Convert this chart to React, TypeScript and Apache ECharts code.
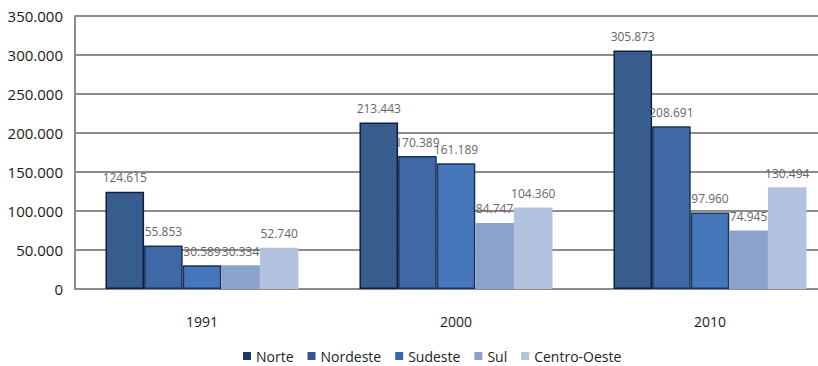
import React, { useEffect, useRef } from "react";
import * as echarts from "echarts";

const categories = ["1991", "2000", "2010"];
const seriesNames = ["Norte", "Nordeste", "Sudeste", "Sul", "Centro-Oeste"];
const norte = [124615, 213443, 305873];
const nordeste = [55853, 170389, 208691];
const sudeste = [30589, 161189, 97960];
const sul = [30334, 84747, 74945];
const centroOeste = [52740, 104360, 130494];
const yTicks = [0, 50000, 100000, 150000, 200000, 250000, 300000, 350000];

const fills = ["#385d8f", "#3f69a6", "#4677bb", "#8ba2cb", "#b3c3df"];
const legendColors = ["#1f3864", "#2f5597", "#3366b4", "#8ba2cb", "#b3c3df"];
const borders = ["#0f1f3d", "#1c3358", "#1c3358", "#8ba2cb", "#b3c3df"];

const fmt = (v: number) =>
  String(Math.round(v)).replace(/\B(?=(\d{3})+(?!\d))/g, ".");

export default function App() {
  const ref = useRef<HTMLDivElement>(null);
  useEffect(() => {
    if (!ref.current) return;
    const chart = echarts.init(ref.current, null, { renderer: "svg" });
    const all = [norte, nordeste, sudeste, sul, centroOeste];
    chart.setOption({
      animation: false,
      backgroundColor: "#ffffff",
      textStyle: { fontFamily: "Open Sans" },
      grid: {
        left: 75,
        top: 16,
        width: 762,
        height: 273,
        containLabel: false,
        outerBoundsMode: "none",
      },
      legend: {
        left: 238,
        top: 344,
        itemWidth: 8,
        itemHeight: 8,
        itemGap: 14,
        icon: "rect",
        textStyle: { fontSize: 14, color: "#222", fontFamily: "Open Sans" },
        data: seriesNames.map((n, i) => ({
          name: n,
          itemStyle: { color: legendColors[i], borderWidth: 0 },
        })),
      },
      xAxis: {
        type: "category",
        data: categories,
        axisLine: { lineStyle: { color: "#8c8c8c", width: 2 } },
        axisTick: { show: false },
        axisLabel: { fontSize: 14, color: "#1a1a1a", margin: 25 },
      },
      yAxis: {
        type: "value",
        min: yTicks[0],
        max: yTicks[yTicks.length - 1],
        interval: 50000,
        axisLine: { show: true, lineStyle: { color: "#8c8c8c", width: 2 } },
        axisTick: { show: false },
        splitLine: { lineStyle: { color: "#8c8c8c", width: 2 } },
        axisLabel: {
          fontSize: 15,
          color: "#1a1a1a",
          margin: 12,
          formatter: (v: number) => fmt(v),
        },
      },
      series: all.map((d, i) => ({
        name: seriesNames[i],
        type: "bar",
        data: d,
        barGap: "0%",
        barCategoryGap: "24%",
        itemStyle: {
          color: fills[i],
          borderColor: borders[i],
          borderWidth: i < 3 ? 1.5 : 0,
        },
        label: {
          show: true,
          position: "top",
          distance: 8,
          fontSize: 12,
          color: "#666",
          formatter: (p: any) => fmt(p.value),
        },
      })),
    });
    return () => chart.dispose();
  }, []);
  return (
    <div
      ref={ref}
      style={{ position: "fixed", left: 0, top: 0, width: 818, height: 366, overflow: "hidden" }}
    />
  );
}
